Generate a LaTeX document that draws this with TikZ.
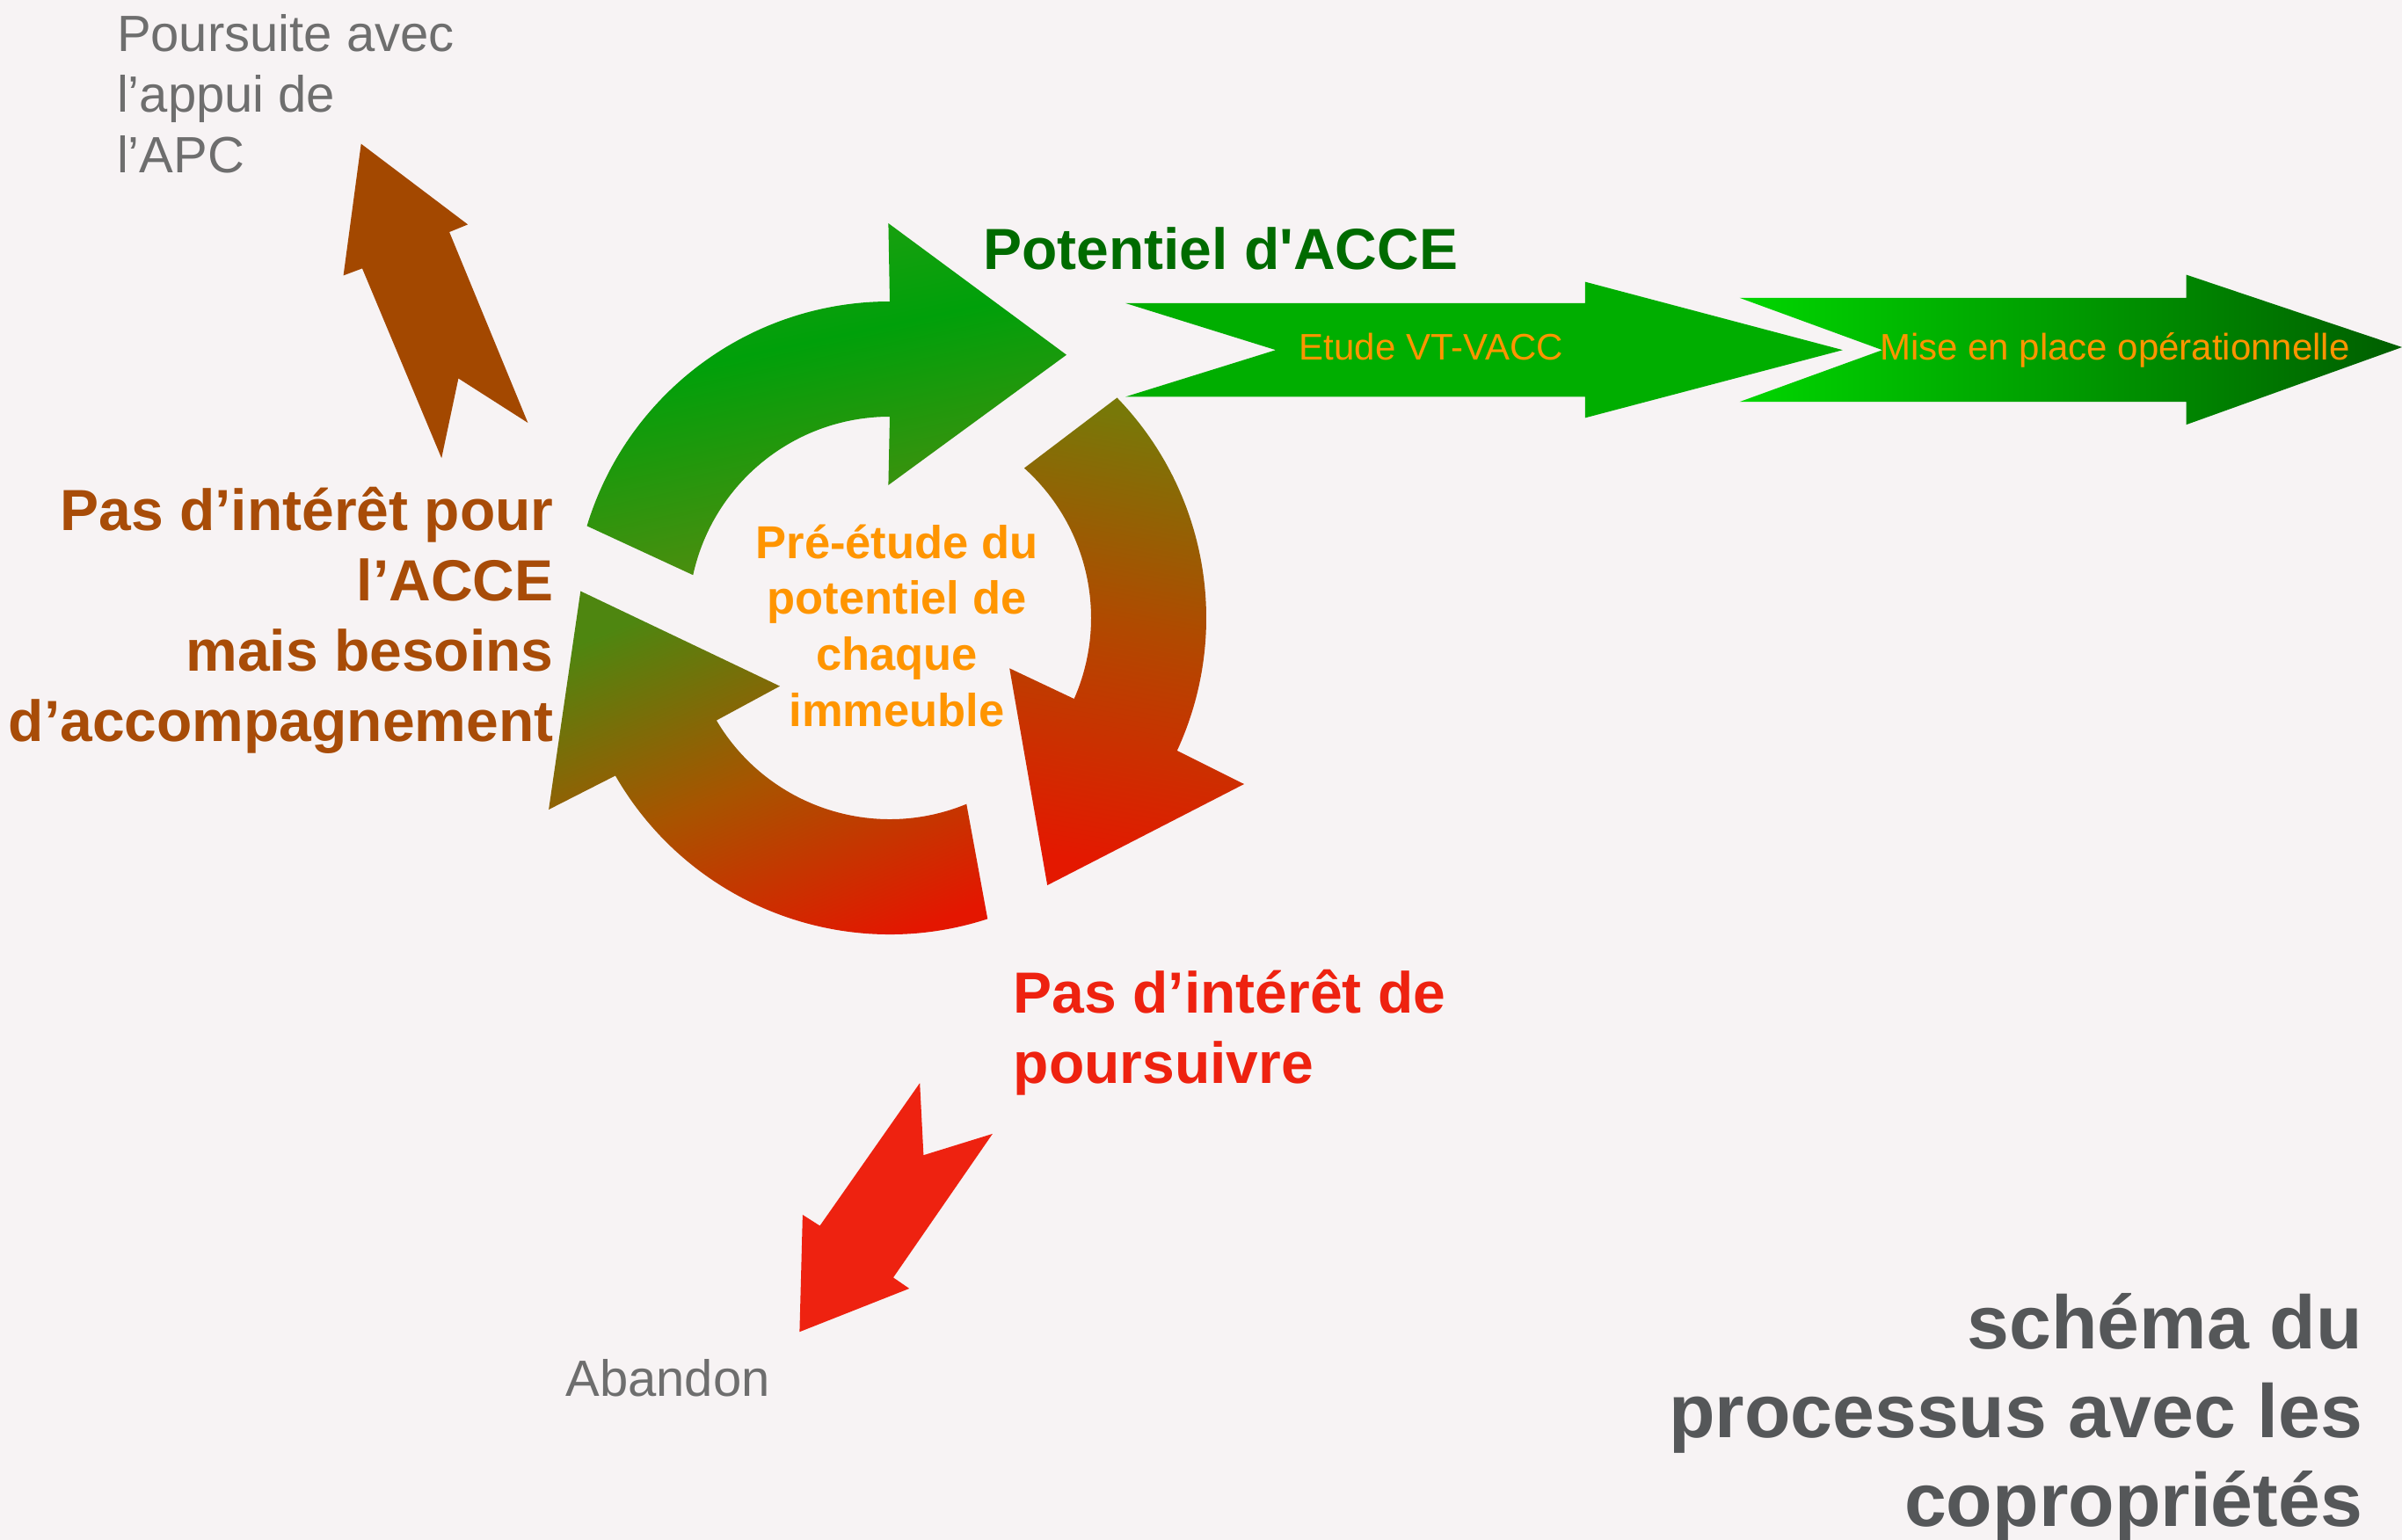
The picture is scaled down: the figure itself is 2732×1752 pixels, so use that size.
\documentclass[tikz,border=0pt]{standalone}
\usepackage{fontspec}
\setmainfont{Liberation Sans}[Ligatures=TeXOff]
\usetikzlibrary{calc}
\definecolor{bg}{HTML}{F7F3F4}
\definecolor{greytxt}{HTML}{6E6E6E}
\definecolor{browntxt}{HTML}{A84C08}
\definecolor{brownarrow}{HTML}{A34800}
\definecolor{darkgreen}{HTML}{006B00}
\definecolor{orangetxt}{HTML}{FF9500}
\definecolor{redtxt}{HTML}{EE2210}
\definecolor{redarrow}{HTML}{EE2210}
\definecolor{titlegrey}{HTML}{555759}
\definecolor{chevgreen}{HTML}{00AE00}
\definecolor{chevlight}{HTML}{00D600}
\definecolor{chevdark}{HTML}{005E00}
\definecolor{gTop}{HTML}{1EA010}
\definecolor{gMid}{HTML}{00A00A}
\definecolor{gBot}{HTML}{5A8A10}
\definecolor{oTop}{HTML}{787808}
\definecolor{oMid}{HTML}{B04A00}
\definecolor{oBot}{HTML}{E41800}
\definecolor{bTop}{HTML}{4E8610}
\definecolor{bMid}{HTML}{A85400}
\definecolor{bBot}{HTML}{E41600}
\pgfdeclareverticalshading{greenarc}{100bp}{color(0bp)=(gBot); color(25bp)=(gBot); color(58bp)=(gMid); color(75bp)=(gTop); color(100bp)=(gTop)}
\pgfdeclareverticalshading{rightarc}{100bp}{color(0bp)=(oBot); color(25bp)=(oBot); color(52bp)=(oMid); color(75bp)=(oTop); color(100bp)=(oTop)}
\pgfdeclareverticalshading{bottomarc}{100bp}{color(0bp)=(bBot); color(25bp)=(bBot); color(50bp)=(bMid); color(75bp)=(bTop); color(100bp)=(bTop)}
\begin{document}
\begin{tikzpicture}[x=1pt,y=-1pt,
  txt/.style={inner sep=0pt,outer sep=0pt},
  bigbold/.style={txt,font=\fontsize{66}{80}\selectfont\bfseries},
  greyreg/.style={txt,font=\fontsize{58}{69}\selectfont,text=greytxt},
  chevtxt/.style={txt,font=\fontsize{42}{50}\selectfont,text=orangetxt}]
\useasboundingbox (0,0) rectangle (2732,1752);
\fill[bg] (0,0) rectangle (2732,1752);
\coordinate (C) at (1012,703);

% cycle arrows
\shade[shading=greenarc,shading angle=12]
  ($(C)+(196.9:360)$) arc[start angle=196.9,end angle=270,radius=360]
  -- (1010.4,254) -- (1213,403.7) -- (1010.4,551.9)
  -- ($(C)+(270:229)$) arc[start angle=270,end angle=192.3,radius=229] -- cycle;
\shade[shading=rightarc,shading angle=-10]
  ($(C)+(-44.1:360)$) arc[start angle=-44.1,end angle=24.8,radius=360]
  -- (1415,892) -- (1191.2,1007.1) -- (1148.2,760.3)
  -- ($(C)+(23.7:229)$) arc[start angle=23.7,end angle=-48.1,radius=229] -- cycle;
\shade[shading=bottomarc,shading angle=22]
  ($(C)+(72:360)$) arc[start angle=72,end angle=150.1,radius=360]
  -- (624.1,921) -- (660.3,672.5) -- (887,780.6)
  -- ($(C)+(149.4:229)$) arc[start angle=149.4,end angle=67.6,radius=229] -- cycle;

% side arrows
\fill[brownarrow] (410.7,163.6) -- (532.1,255.4) -- (511.1,264) -- (600.4,481)
  -- (521.4,430.5) -- (502.2,521.2) -- (412,305.4) -- (390.6,313.4) -- cycle;
\fill[redarrow] (1046.2,1232.1) -- (1050.4,1314.2) -- (1128.9,1289.9) -- (1016,1453.4)
  -- (1034.2,1465.9) -- (909.4,1515.2) -- (912.9,1382) -- (932.5,1394.5) -- cycle;

% chevrons
\fill[chevgreen] (1280.1,344.9) -- (1802.8,344.9) -- (1802.8,320.6) -- (2095.9,398.2)
  -- (1802.8,475.4) -- (1802.8,451.4) -- (1280.1,451.4) -- (1451,398.2) -- cycle;
\shade[left color=chevlight,right color=chevdark]
  (1978.7,338.9) -- (2486.7,338.9) -- (2486.7,312.6) -- (2732,395)
  -- (2486.7,483.1) -- (2486.7,457.1) -- (1978.7,457.1) -- (2140.9,398.2) -- cycle;

% texts (multi-line nodes anchored at the baseline of their last line)
\node[greyreg,anchor=base west,align=left] (poursuite) at (133,196.9)
  {Poursuite avec\\l’appui de\\l’APC};
\node[bigbold,text=browntxt,anchor=base east,align=right] (pasacce) at (629.5,843.8)
  {Pas d’intérêt pour\\l’ACCE\\mais besoins\\d’accompagnement};
\node[bigbold,text=darkgreen,anchor=base west] (potentiel) at (1118,306.7)
  {Potentiel d'ACCE};
\node[txt,font=\fontsize{52.5}{63.6}\selectfont\bfseries,text=orangetxt,anchor=base,align=center] (preetude) at (1020,826)
  {Pré-étude du\\potentiel de\\chaque\\immeuble};
\node[chevtxt,anchor=base] (etude) at (1628,409) {Etude VT-VACC};
\node[chevtxt,anchor=base west] (mise) at (2138,409) {Mise en place opérationnelle};
\node[bigbold,text=redtxt,anchor=base west,align=left] (pasint) at (1152.8,1232.8)
  {Pas d’intérêt de\\poursuivre};
\node[greyreg,anchor=base west] (abandon) at (643.5,1588.4) {Abandon};
\node[txt,font=\fontsize{86}{101}\selectfont\bfseries,text=titlegrey,anchor=base east,align=right] (schema) at (2687,1736.7)
  {schéma du\\processus avec les\\copropriétés};
\end{tikzpicture}
\end{document}
